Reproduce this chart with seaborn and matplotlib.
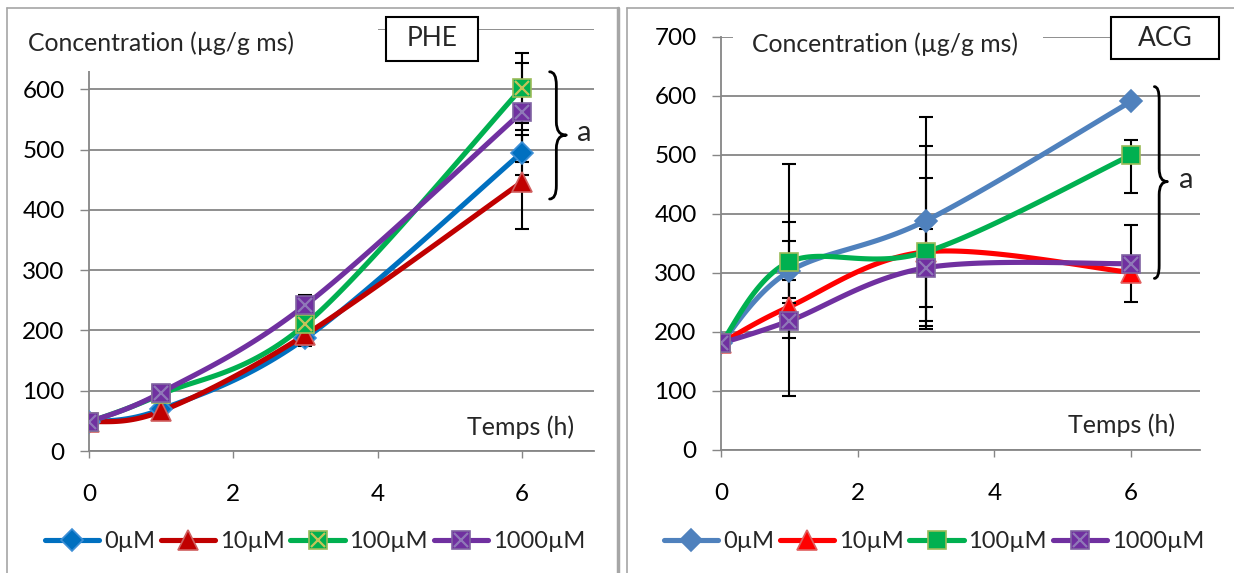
import numpy as np
import matplotlib
matplotlib.use("Agg")
import matplotlib.pyplot as plt
import seaborn as sns
import pandas as pd
from matplotlib.patches import Rectangle, PathPatch
from matplotlib.lines import Line2D
from matplotlib.path import Path

# ---------------- data ----------------
times = [0, 1, 3, 6]
series_labels = ["0µM", "10µM", "100µM", "1000µM"]
x_ticks = [0, 2, 4, 6]
y_ticks = [0, 100, 200, 300, 400, 500, 600, 700]

# PHE panel (means, symmetric error)
phe_0 = [48, 69, 187, 495]
phe_10 = [48, 66, 193, 446]
phe_100 = [48, 94, 210, 602]
phe_1000 = [48, 97, 242, 562]
phe_err_0 = [2, 4, 12, 37]
phe_err_10 = [2, 4, 8, 78]
phe_err_100 = [2, 4, 10, 58]
phe_err_1000 = [2, 4, 17, 82]

# ACG panel (means, lower / upper error)
acg_0 = [180, 302, 388, 590]
acg_10 = [180, 242, 335, 300]
acg_100 = [180, 318, 335, 499]
acg_1000 = [180, 218, 308, 315]
acg_lo_0 = [3, 45, 179, 5]
acg_hi_0 = [3, 51, 175, 5]
acg_lo_10 = [3, 53, 131, 10]
acg_hi_10 = [3, 45, 125, 10]
acg_lo_100 = [3, 69, 118, 65]
acg_hi_100 = [3, 68, 179, 25]
acg_lo_1000 = [3, 128, 66, 65]
acg_hi_1000 = [3, 266, 66, 65]

panel_names = ["PHE", "ACG"]
y_title = "Concentration (µg/g ms)"
x_title = "Temps (h)"
sig_letter = "a"

# ---------------- style ----------------
W, H = 1234, 573
sns.set_theme(style="white")
plt.rcParams['font.family'] = ['Lato', 'DejaVu Sans']
plt.rcParams['axes.unicode_minus'] = False

fig = plt.figure(figsize=(W / 100, H / 100), dpi=100)
fig.patch.set_facecolor("white")


def fx(px):
    return px / W


def fy(py):
    return 1 - py / H


GRID = "#868686"

styles_left = [
    dict(color="#0070C0", marker="D", mfc="#0070C0", mec="#3d8fd6", ms=11, xcol=None),
    dict(color="#C00000", marker="^", mfc="#C00000", mec="#d06060", ms=14, xcol=None),
    dict(color="#00B050", marker="s", mfc="#00B050", mec="#9BBB59", ms=13, xcol="#C3C35A"),
    dict(color="#7030A0", marker="s", mfc="#7030A0", mec="#8064A2", ms=13, xcol="#8F78B8"),
]
styles_right = [
    dict(color="#4F81BD", marker="D", mfc="#4F81BD", mec="#4F81BD", ms=11, xcol=None),
    dict(color="#FF0000", marker="^", mfc="#FF0000", mec="#E06060", ms=14, xcol=None),
    dict(color="#00B050", marker="s", mfc="#00B050", mec="#9BBB59", ms=13, xcol=None),
    dict(color="#7030A0", marker="s", mfc="#7030A0", mec="#8064A2", ms=13, xcol="#8F78B8"),
]


def smooth(xs, ys, n=40):
    P = np.column_stack([xs, ys]).astype(float)
    m = len(P)
    out = [P[0]]
    for i in range(m - 1):
        p0 = P[max(i - 1, 0)]
        p1 = P[i]
        p2 = P[i + 1]
        p3 = P[min(i + 2, m - 1)]
        c1 = p1 + (p2 - p0) / 6
        c2 = p2 - (p3 - p1) / 6
        t = np.linspace(0, 1, n)[1:, None]
        b = (1 - t) ** 3 * p1 + 3 * (1 - t) ** 2 * t * c1 + 3 * (1 - t) * t ** 2 * c2 + t ** 3 * p2
        out.extend(b)
    return np.array(out)


def brace(ax, x_tip, x_stem, x_pt, y_top, y_mid, y_bot, r):
    verts = [
        (x_tip, y_top), (x_stem, y_top), (x_stem, y_top - r),
        (x_stem, y_mid + r),
        (x_stem, y_mid), (x_pt, y_mid),
        (x_stem, y_mid), (x_stem, y_mid - r),
        (x_stem, y_bot + r),
        (x_stem, y_bot), (x_tip, y_bot),
    ]
    codes = [Path.MOVETO, Path.CURVE3, Path.CURVE3,
             Path.LINETO,
             Path.CURVE3, Path.CURVE3,
             Path.CURVE3, Path.CURVE3,
             Path.LINETO,
             Path.CURVE3, Path.CURVE3]
    ax.add_patch(PathPatch(Path(verts, codes), fill=False, lw=2.0,
                           ec="black", zorder=6, clip_on=False,
                           capstyle="round", joinstyle="round"))


def draw_panel(ax, series, lo_errs, hi_errs, styles, show_top_label):
    for idx, (vals, lo, hi, st) in enumerate(zip(series, lo_errs, hi_errs, styles)):
        curve = smooth(times, vals)
        df = pd.DataFrame({"t": curve[:, 0], "v": curve[:, 1]})
        sns.lineplot(data=df, x="t", y="v", sort=False, ax=ax, color=st["color"],
                     lw=3.7, zorder=2 + idx * 0.01, legend=False, estimator=None)
        ax.errorbar(times, vals, yerr=[lo, hi], fmt="none", ecolor="black",
                    elinewidth=1.5, capsize=5, capthick=1.5, zorder=3)
    for idx, (vals, st) in enumerate(zip(series, styles)):
        ax.plot(times, vals, ls="none", marker=st["marker"], mfc=st["mfc"],
                mec=st["mec"], ms=st["ms"], mew=1.2, zorder=4 + idx * 0.1)
        if st["xcol"]:
            ax.plot(times, vals, ls="none", marker="x", color=st["xcol"],
                    ms=st["ms"] * 0.8, mew=1.6, zorder=4.05 + idx * 0.1)

    ax.set_xlim(0, 7)
    ax.set_ylim(0, 700)
    ax.set_xticks(x_ticks)
    ax.set_yticks(y_ticks)
    ylabels = [str(v) for v in y_ticks]
    if not show_top_label:
        ylabels[-1] = ""
    ax.set_yticklabels(ylabels)
    ax.set_xlabel("")
    ax.set_ylabel("")
    ax.grid(axis="y", color=GRID, lw=1.3)
    ax.grid(axis="x", visible=False)
    ax.set_axisbelow(True)
    for s in ["top", "right"]:
        ax.spines[s].set_visible(False)
    for s in ["left", "bottom"]:
        ax.spines[s].set_color(GRID)
        ax.spines[s].set_linewidth(1.3)
    ax.tick_params(axis="y", length=6.5, width=1.0, color=GRID, pad=11, labelsize=17.5,
                   left=True, labelcolor="black")
    ax.tick_params(axis="x", length=5, width=1.0, color=GRID, pad=19, labelsize=17.5,
                   bottom=True, labelcolor="black")
    ax.set_facecolor("white")


def legend_handles(styles):
    hs = []
    for st in styles:
        base = Line2D([], [], color=st["color"], lw=3.7, marker=st["marker"],
                      mfc=st["mfc"], mec=st["mec"], ms=st["ms"], mew=1.2)
        if st["xcol"]:
            xm = Line2D([], [], ls="none", marker="x", color=st["xcol"],
                        ms=st["ms"] * 0.8, mew=1.6)
            hs.append((base, xm))
        else:
            hs.append(base)
    return hs


# ---------------- left panel (PHE) ----------------
axL = fig.add_axes([fx(89), fy(451), fx(594 - 89), (451 - 29) / H])
draw_panel(axL, [phe_0, phe_10, phe_100, phe_1000],
           [phe_err_0, phe_err_10, phe_err_100, phe_err_1000],
           [phe_err_0, phe_err_10, phe_err_100, phe_err_1000], styles_left, False)
axL.text(6.73, 39, x_title, ha="right", va="center", fontsize=18, zorder=7)
brace(axL, 6.385, 6.478, 6.616, 629, 524, 418, 22)
axL.text(6.87, 527, sig_letter, ha="center", va="center", fontsize=21, zorder=7)

# ---------------- right panel (ACG) ----------------
axR = fig.add_axes([fx(721), fy(449.5), fx(1199.5 - 721), (449.5 - 36.5) / H])
draw_panel(axR, [acg_0, acg_10, acg_100, acg_1000],
           [acg_lo_0, acg_lo_10, acg_lo_100, acg_lo_1000],
           [acg_hi_0, acg_hi_10, acg_hi_100, acg_hi_1000], styles_right, True)
axR.text(6.64, 41, x_title, ha="right", va="center", fontsize=18, zorder=7)
brace(axR, 6.34, 6.41, 6.53, 615, 454, 290, 22)
axR.text(6.81, 457, sig_letter, ha="center", va="center", fontsize=21, zorder=7)

# ---------------- figure-level decorations ----------------
def frect(x0, y0, x1, y1, **kw):
    r = Rectangle((fx(x0), fy(y1)), fx(x1 - x0), (y1 - y0) / H,
                  transform=fig.transFigure, **kw)
    fig.add_artist(r)
    return r


# white masks behind axis titles
frect(12, 12, 378, 71, fc="white", ec="none", zorder=5)
frect(733, 18, 1043, 62, fc="white", ec="none", zorder=5)
fig.text(fx(28), fy(43), y_title, ha="left", va="center", fontsize=17.8, zorder=7)
fig.text(fx(752), fy(44), y_title, ha="left", va="center", fontsize=17.8, zorder=7)

# panel name boxes
frect(386, 17, 478, 61, fc="white", ec="black", lw=1.5, zorder=6)
fig.text(fx(432), fy(39), panel_names[0], ha="center", va="center", fontsize=19, zorder=7)
frect(1111, 16.5, 1219, 59, fc="white", ec="black", lw=1.5, zorder=6)
fig.text(fx(1165), fy(38), panel_names[1], ha="center", va="center", fontsize=19, zorder=7)

# chart borders
BORDER = "#A6A6A6"
for (x0, y0, x1, y1, lw) in [(7, 8, 7, 573, 1.2), (7, 8, 619, 8, 1.2), (618, 8, 618, 573, 2.5),
                             (627, 8, 627, 573, 1.2), (627, 8, 1234, 8, 1.2)]:
    fig.add_artist(Line2D([fx(x0), fx(x1)], [fy(y0), fy(y1)], transform=fig.transFigure,
                          color=BORDER, lw=lw, zorder=8))

# legends
for cx, styles in [(315, styles_left), (934, styles_right)]:
    fig.legend(legend_handles(styles), series_labels, loc="center",
               bbox_to_anchor=(fx(cx), fy(542)), ncol=4, frameon=False,
               fontsize=17, handlelength=2.3, handletextpad=0.2,
               columnspacing=0.25, borderpad=0, borderaxespad=0)

fig.savefig("out.png", dpi=100, facecolor="white")
